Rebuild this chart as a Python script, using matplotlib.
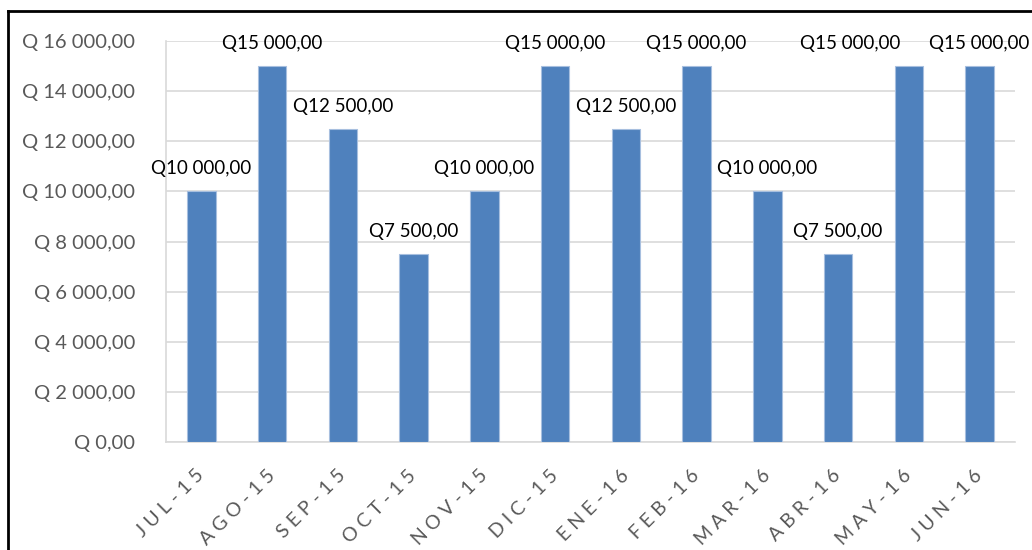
import matplotlib.pyplot as plt
from matplotlib.lines import Line2D
from matplotlib.ticker import FuncFormatter

months = ["JUL-15", "AGO-15", "SEP-15", "OCT-15", "NOV-15", "DIC-15",
          "ENE-16", "FEB-16", "MAR-16", "ABR-16", "MAY-16", "JUN-16"]
amounts = [10000, 15000, 12500, 7500, 10000, 15000,
           12500, 15000, 10000, 7500, 15000, 15000]
yticks = [0, 2000, 4000, 6000, 8000, 10000, 12000, 14000, 16000]

plt.rcParams['font.family'] = ['Lato', 'DejaVu Sans']

W, H = 1032, 550
fig = plt.figure(figsize=(W / 100, H / 100), dpi=100)
ax = fig.add_axes([166 / W, 1 - 442 / H, (1015 - 166) / W, (442 - 41) / H])


def qfmt(v, space=True):
    s = f"{v:,.2f}".replace(",", " ").replace(".", ",")
    return ("Q " if space else "Q") + s


x = range(len(months))
ax.bar(x, amounts, width=0.4, color="#4f81bd", edgecolor="#a7bfdf",
       linewidth=0.8, zorder=3)

# Excel nudged the MAY-16 label left so it does not collide with JUN-16
label_shift = {10: -42}
for i, v in enumerate(amounts):
    ax.annotate(qfmt(v, space=False), (i, v), xytext=(label_shift.get(i, 0), 10),
                textcoords="offset points", ha="center", va="bottom",
                fontsize=13.5, color="black")

ax.set_xlim(-0.5, len(months) - 0.5)
ax.set_ylim(0, 16000)
ax.set_yticks(yticks)
ax.yaxis.set_major_formatter(FuncFormatter(lambda v, p: qfmt(v)))
ax.grid(axis="y", color="#d9d9d9", linewidth=1.2, zorder=0)

spaced = [" ".join(m) for m in months]
ax.set_xticks(list(x))
ax.set_xticklabels(spaced, rotation=45, ha="right", va="center",
                   rotation_mode="anchor", fontsize=14, color="#595959")
ax.tick_params(axis="y", labelsize=14.5, labelcolor="#595959", length=0, pad=22)
ax.tick_params(axis="x", length=0, pad=22)

for side in ["top", "right"]:
    ax.spines[side].set_visible(False)
for side in ["left", "bottom"]:
    ax.spines[side].set_color("#d9d9d9")
    ax.spines[side].set_linewidth(1.2)

# outer chart border (only top and left visible in the crop)
fig.add_artist(Line2D([8 / W, 1], [1 - 11 / H, 1 - 11 / H], color="black", linewidth=2))
fig.add_artist(Line2D([8 / W, 8 / W], [0, 1 - 11 / H], color="black", linewidth=2))

fig.savefig("out.png", dpi=100)
